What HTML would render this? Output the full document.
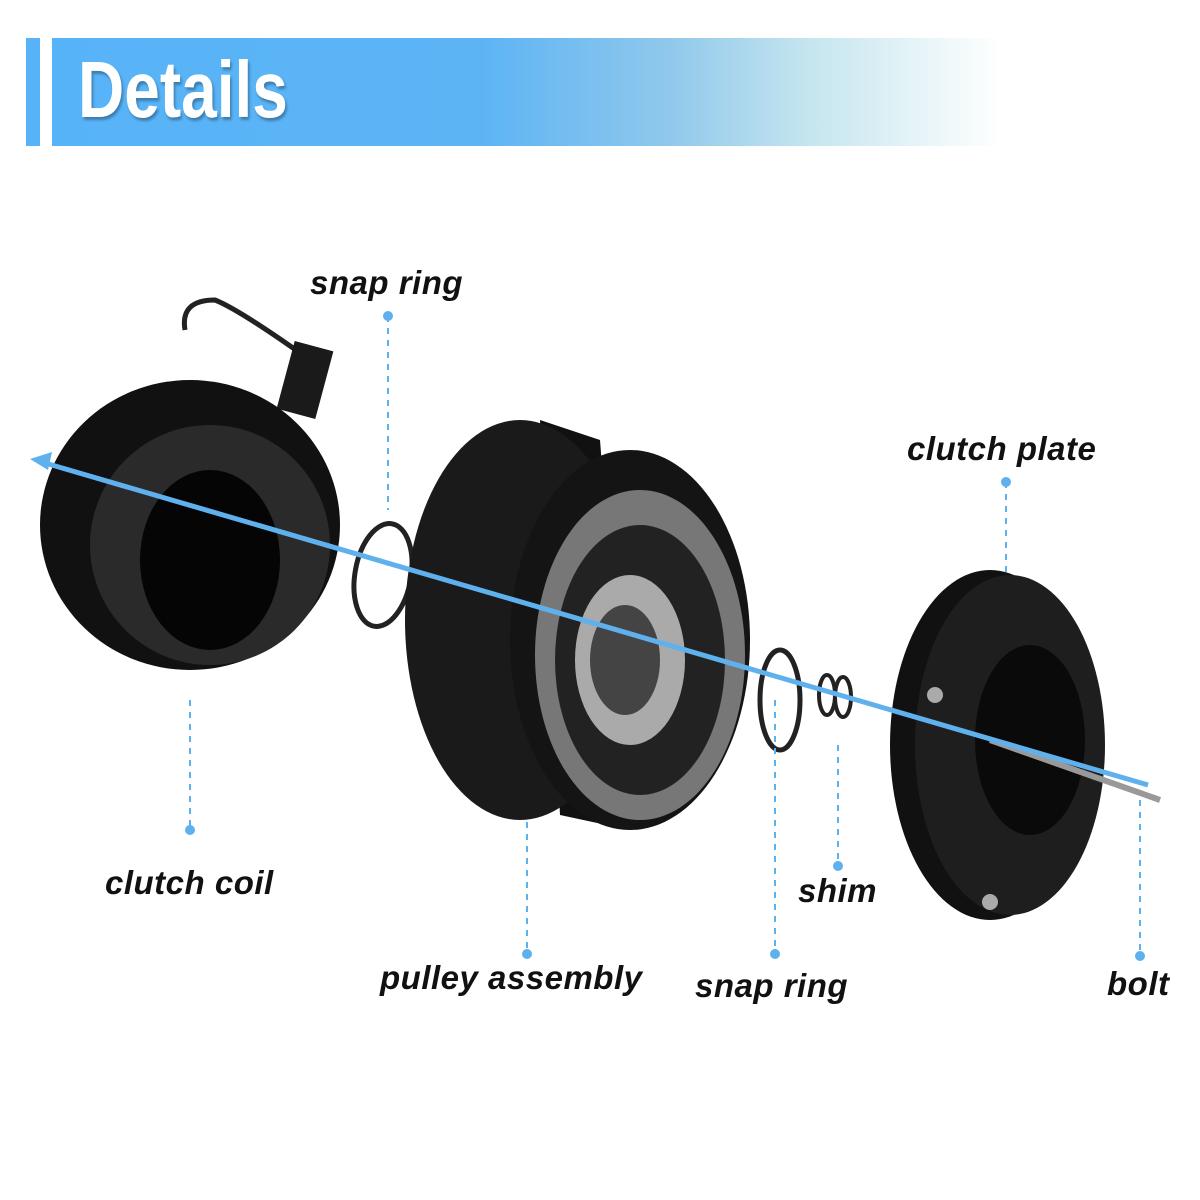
<!DOCTYPE html>
<html><head><meta charset="utf-8"><style>
body{margin:0;width:1200px;height:1200px;background:#fff;position:relative;overflow:hidden;font-family:"Liberation Sans",sans-serif}
.lbl{position:absolute;font-weight:bold;font-style:italic;font-size:33px;letter-spacing:0.5px;color:#111;white-space:nowrap}
</style></head><body>
<div style="position:absolute;left:26px;top:38px;width:14px;height:108px;background:#57b2f7"></div>
<div style="position:absolute;left:52px;top:38px;width:950px;height:108px;background:linear-gradient(90deg,#57b3f8 0%,#5cb4f5 45%,#90c8ec 65%,#c6e6ef 80%,#fff 100%)"></div>
<div style="position:absolute;left:78px;top:44px;font-size:80px;font-weight:bold;color:#fff;transform:scaleX(0.8);transform-origin:left top;text-shadow:2px 3px 3px rgba(0,0,0,.3)">Details</div>
<svg width="1200" height="1200" style="position:absolute;left:0;top:0">
<path d="M185 330 Q180 300 215 300 Q240 310 310 360" stroke="#222" stroke-width="5" fill="none"/>
<rect x="285" y="345" width="40" height="70" fill="#1a1a1a" transform="rotate(15 305 380)"/>
<ellipse cx="190" cy="525" rx="150" ry="145" fill="#111"/>
<ellipse cx="210" cy="545" rx="120" ry="120" fill="#2a2a2a"/>
<ellipse cx="210" cy="560" rx="70" ry="90" fill="#050505"/>
<ellipse cx="383" cy="575" rx="28" ry="52" fill="none" stroke="#222" stroke-width="5" transform="rotate(10 383 575)"/>
<path d="M540 420 L600 440 L630 830 L560 815 Z" fill="#111"/>
<ellipse cx="520" cy="620" rx="115" ry="200" fill="#1a1a1a"/>
<ellipse cx="630" cy="640" rx="120" ry="190" fill="#141414"/>
<ellipse cx="640" cy="655" rx="105" ry="165" fill="#777"/>
<ellipse cx="640" cy="660" rx="85" ry="135" fill="#222"/>
<ellipse cx="630" cy="660" rx="55" ry="85" fill="#aaa"/>
<ellipse cx="625" cy="660" rx="35" ry="55" fill="#444"/>
<ellipse cx="780" cy="700" rx="20" ry="50" fill="none" stroke="#222" stroke-width="5"/>
<ellipse cx="827" cy="695" rx="8" ry="20" fill="none" stroke="#222" stroke-width="4"/>
<ellipse cx="843" cy="697" rx="8" ry="20" fill="none" stroke="#222" stroke-width="4"/>
<ellipse cx="990" cy="745" rx="100" ry="175" fill="#111"/>
<ellipse cx="1010" cy="745" rx="95" ry="170" fill="#1e1e1e"/>
<ellipse cx="1030" cy="740" rx="55" ry="95" fill="#0a0a0a"/>
<circle cx="935" cy="695" r="8" fill="#aaa"/><circle cx="990" cy="902" r="8" fill="#aaa"/>
<line x1="990" y1="740" x2="1160" y2="800" stroke="#999" stroke-width="6"/>
<line x1="45" y1="463" x2="1148" y2="785" stroke="#5fb1ee" stroke-width="5"/>
<polygon points="30,459 52,452 48,470" fill="#5fb1ee"/>
<g stroke="#5fb1ee" stroke-width="2" stroke-dasharray="6,6" fill="#5fb1ee">
<line x1="388" y1="316" x2="388" y2="510"/><line x1="1006" y1="482" x2="1006" y2="575"/>
<line x1="190" y1="700" x2="190" y2="828"/><line x1="527" y1="822" x2="527" y2="952"/>
<line x1="775" y1="700" x2="775" y2="952"/><line x1="838" y1="745" x2="838" y2="865"/>
<line x1="1140" y1="800" x2="1140" y2="955"/>
</g>
<g fill="#5fb1ee"><circle cx="388" cy="316" r="5"/><circle cx="1006" cy="482" r="5"/><circle cx="190" cy="830" r="5"/><circle cx="527" cy="954" r="5"/><circle cx="775" cy="954" r="5"/><circle cx="838" cy="866" r="5"/><circle cx="1140" cy="956" r="5"/></g>
</svg>
<div class="lbl" style="left:310px;top:264px">snap ring</div>
<div class="lbl" style="left:907px;top:430px">clutch plate</div>
<div class="lbl" style="left:105px;top:864px">clutch coil</div>
<div class="lbl" style="left:380px;top:959px">pulley assembly</div>
<div class="lbl" style="left:695px;top:967px">snap ring</div>
<div class="lbl" style="left:798px;top:872px">shim</div>
<div class="lbl" style="left:1107px;top:965px">bolt</div>
</body></html>
